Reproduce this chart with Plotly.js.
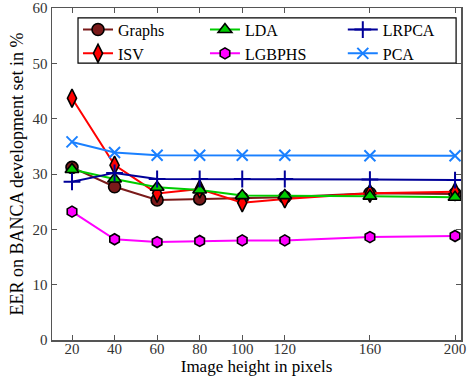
<!DOCTYPE html>
<html><head><meta charset="utf-8">
<script src="https://cdn.plot.ly/plotly-3.0.1.min.js"></script>
<style>body{margin:0;padding:0;background:#fff}#chart{width:469px;height:376px}</style>
</head><body><div id="chart"></div>
<script>
const heights = [20, 40, 60, 80, 100, 120, 160, 200];
const graphs = [31.2, 27.7, 25.3, 25.5, 25.6, 25.8, 26.5, 26.4];
const isv    = [43.7, 31.6, 26.5, 27.3, 24.8, 25.5, 26.5, 26.8];
const lda    = [30.8, 29.1, 27.6, 27.1, 26.1, 26.1, 26.0, 25.8];
const lgbphs = [23.2, 18.2, 17.7, 17.9, 18.0, 18.0, 18.6, 18.8];
const lrpca  = [28.6, 30.2, 29.1, 29.1, 29.1, 29.1, 29.0, 28.9];
const pca    = [35.8, 33.9, 33.4, 33.4, 33.4, 33.4, 33.3, 33.3];
const xTicks = [20, 40, 60, 80, 100, 120, 160, 200];
const yTicks = [0, 10, 20, 30, 40, 50, 60];

function tr(name, y, color, symbol, size, leg, outline){
  return {x: heights, y: y, name: name, type: 'scatter', mode: 'lines+markers',
    legend: leg,
    line: {color: color, width: 2},
    marker: {symbol: symbol, size: size, color: color,
      line: outline ? {color: '#000', width: 1.6} : {color: color, width: 2}}};
}
const data = [
  tr('Graphs', graphs, '#7a1a1a', 'circle', 12, 'legend', true),
  tr('ISV', isv, '#ff0000', 'diamond-tall', 13, 'legend', true),
  tr('LDA', lda, '#00cc00', 'triangle-up', 12, 'legend2', true),
  tr('LGBPHS', lgbphs, '#ff00ff', 'hexagon', 11, 'legend2', true),
  tr('LRPCA', lrpca, '#000099', 'cross-thin', 12, 'legend3', false),
  tr('PCA', pca, '#1a80ff', 'x-thin', 11, 'legend3', false)
];
const serif = 'Liberation Serif, DejaVu Serif, serif';
function leg(x){
  return {orientation: 'v', x: x, y: 0.986, xanchor: 'left', yanchor: 'top',
    borderwidth: 0, bgcolor: 'rgba(0,0,0,0)', font: {family: serif, size: 16, color: '#000'},
    tracegroupgap: 0};
}
const layout = {
  width: 469, height: 376,
  margin: {l: 52, r: 8, t: 8, b: 36},
  paper_bgcolor: '#fff', plot_bgcolor: '#fff',
  font: {family: serif, size: 15, color: '#000'},
  showlegend: true,
  legend: leg(0.0636), legend2: leg(0.374), legend3: leg(0.711),
  shapes: [{type: 'rect', xref: 'paper', yref: 'paper', x0: 0.0636, x1: 0.988, y0: 0.834, y1: 0.970,
    line: {color: '#000', width: 1.2}, fillcolor: '#fff', layer: 'above'}],
  xaxis: {range: [10.6, 202.8], tickvals: xTicks, ticktext: xTicks.map(String),
    ticks: 'inside', ticklen: 5, tickcolor: '#555', showline: true, linecolor: '#555', linewidth: 1.5,
    mirror: 'ticks', showgrid: false, zeroline: false, ticklabelstandoff: -6,
    tickfont: {family: serif, size: 15, color: '#333'},
    title: {text: 'Image height in pixels', font: {family: serif, size: 17, color: '#000'}, standoff: 5}},
  yaxis: {range: [0, 60], tickvals: yTicks, ticks: 'inside', ticklen: 5, tickcolor: '#555',
    showline: true, linecolor: '#555', linewidth: 1.5, mirror: 'ticks', showgrid: false, zeroline: false,
    tickfont: {family: serif, size: 15, color: '#333'},
    title: {text: 'EER on BANCA development set in %', font: {family: serif, size: 18, color: '#000'}, standoff: 4}}
};
Plotly.newPlot('chart', data, layout, {displayModeBar: false, staticPlot: true});
</script></body></html>
